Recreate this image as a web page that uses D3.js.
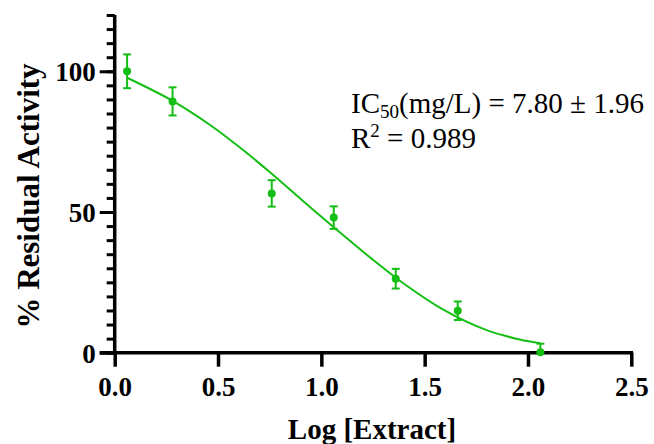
<!DOCTYPE html>
<html><head><meta charset="utf-8">
<script src="https://cdn.jsdelivr.net/npm/d3@7"></script>
<style>body{margin:0;background:#fff}</style>
</head><body>
<svg id="c" width="654" height="444"></svg>
<script>
// Data points (log concentration, % residual activity, SEM)
const logX = [0.06, 0.28, 0.76, 1.06, 1.36, 1.66, 2.06];
const activity = [100.0, 89.3, 56.6, 48.0, 26.3, 14.9, 0.2];
const errors = [6.0, 5.0, 4.7, 4.0, 3.5, 3.3, 3.0];
// Fitted curve
const curveX = [0.06, 0.28, 0.46, 0.62, 0.76, 0.91, 1.06, 1.24, 1.40, 1.59, 1.80, 1.96, 2.06];
const curveY = [97.7, 89.5, 81.0, 72.1, 63.6, 54.0, 44.6, 33.6, 24.5, 15.3, 8.0, 4.7, 3.4];
const xTicks = [0, 0.5, 1.0, 1.5, 2.0, 2.5];
const yMajor = [0, 50, 100];
const yMinor = d3.range(0, 121, 5);

const green = "#14be14";
const svg = d3.select("#c");
const x = d3.scaleLinear().domain([0, 2.5]).range([114.7, 631.3]);
const y = d3.scaleLinear().domain([0, 120]).range([352.7, 15]);

// Y axis
const ya = svg.append("g").attr("transform", `translate(${x(0)},0)`);
ya.call(d3.axisLeft(y).tickValues(yMinor).tickSize(8).tickFormat(""))
ya.selectAll("path").remove();
ya.selectAll("line").attr("stroke", "#000").attr("stroke-width", 3);
const yb = svg.append("g").attr("transform", `translate(${x(0)},0)`);
yb.call(d3.axisLeft(y).tickValues(yMajor).tickSize(15).tickPadding(4).tickFormat(d3.format("d")));
yb.select(".domain").remove();
yb.selectAll("line").attr("stroke", "#000").attr("stroke-width", 3);
yb.selectAll("text").attr("font-family", "Liberation Serif").attr("font-weight", "bold")
  .attr("font-size", 27).attr("fill", "#000").attr("dy", "0.35em");
svg.append("line").attr("x1", x(0)).attr("x2", x(0)).attr("y1", y(120)).attr("y2", y(0) + 1.5)
  .attr("stroke", "#000").attr("stroke-width", 3.5);

// X axis
const xa = svg.append("g").attr("transform", `translate(0,${y(0)})`);
xa.call(d3.axisBottom(x).tickValues(xTicks).tickSize(14).tickPadding(10).tickFormat(d3.format(".1f")));
xa.select(".domain").remove();
xa.selectAll("line").attr("stroke", "#000").attr("stroke-width", 3.5);
xa.selectAll("text").attr("font-family", "Liberation Serif").attr("font-weight", "bold")
  .attr("font-size", 27).attr("fill", "#000");
svg.append("line").attr("x1", x(0) - 15).attr("x2", x(2.5) + 1.75).attr("y1", y(0)).attr("y2", y(0))
  .attr("stroke", "#000").attr("stroke-width", 3.5);

// Curve
const pts = curveX.map((d, i) => [d, curveY[i]]);
svg.append("path").datum(pts)
  .attr("d", d3.line().x(d => x(d[0])).y(d => y(d[1])).curve(d3.curveCatmullRom.alpha(0.5)))
  .attr("fill", "none").attr("stroke", green).attr("stroke-width", 2);

// Error bars & points
const g = svg.append("g");
logX.forEach((lx, i) => {
  const cx = x(lx), top = y(activity[i] + errors[i]), bot = y(Math.max(activity[i] - errors[i], 0));
  g.append("line").attr("x1", cx).attr("x2", cx).attr("y1", top).attr("y2", bot).attr("stroke", green).attr("stroke-width", 2);
  g.append("line").attr("x1", cx - 4).attr("x2", cx + 4).attr("y1", top).attr("y2", top).attr("stroke", green).attr("stroke-width", 2);
  if (activity[i] - errors[i] > 0)
    g.append("line").attr("x1", cx - 4).attr("x2", cx + 4).attr("y1", bot).attr("y2", bot).attr("stroke", green).attr("stroke-width", 2);
  g.append("circle").attr("cx", cx).attr("cy", y(activity[i])).attr("r", 4).attr("fill", green);
});

// Axis titles
svg.append("text").attr("x", 372).attr("y", 439).attr("text-anchor", "middle")
  .attr("font-family", "Liberation Serif").attr("font-weight", "bold").attr("font-size", 29)
  .text("Log [Extract]");
svg.append("text").attr("transform", "translate(39,196) rotate(-90)").attr("text-anchor", "middle")
  .attr("font-family", "Liberation Serif").attr("font-weight", "bold").attr("font-size", 31)
  .text("% Residual Activity");

// Annotation
const t1 = svg.append("text").attr("x", 351).attr("y", 113)
  .attr("font-family", "Liberation Serif").attr("font-size", 29).attr("fill", "#000");
t1.append("tspan").text("IC");
t1.append("tspan").attr("font-size", 19).attr("dy", 5).text("50");
t1.append("tspan").attr("dy", -5).text("(mg/L) = 7.80 ± 1.96");
const t2 = svg.append("text").attr("x", 351).attr("y", 148)
  .attr("font-family", "Liberation Serif").attr("font-size", 29).attr("fill", "#000");
t2.append("tspan").text("R");
t2.append("tspan").attr("font-size", 19).attr("dy", -11).text("2");
t2.append("tspan").attr("dy", 11).text(" = 0.989");
</script>
</body></html>
